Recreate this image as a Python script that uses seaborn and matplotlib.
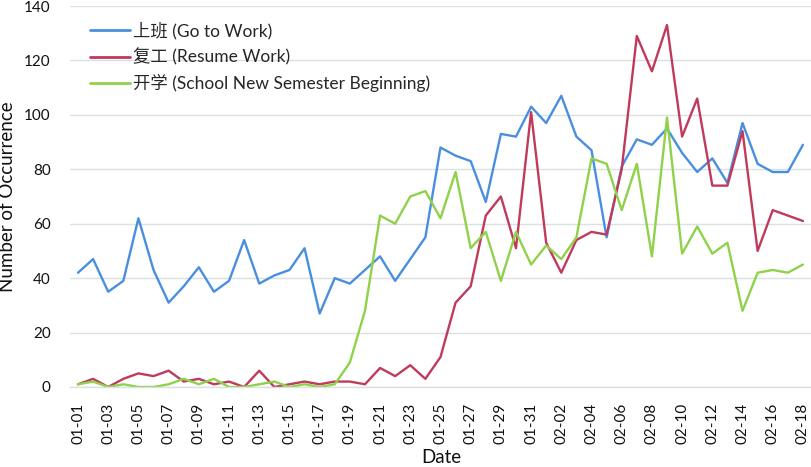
import numpy as np
import pandas as pd
import matplotlib
matplotlib.use("Agg")
import matplotlib.pyplot as plt
import seaborn as sns

dates = ["01-%02d" % d for d in range(1, 32)] + ["02-%02d" % d for d in range(1, 19)]

go_to_work = [42, 47, 35, 39, 62, 43, 31, 37, 44, 35, 39, 54, 38, 41, 43, 51, 27, 40, 38, 43,
              48, 39, 47, 55, 88, 85, 83, 68, 93, 92, 103, 97, 107, 92, 87, 55, 81, 91, 89, 95,
              86, 79, 84, 75, 97, 82, 79, 79, 89]
resume_work = [1, 3, 0, 3, 5, 4, 6, 2, 3, 1, 2, 0, 6, 0, 1, 2, 1, 2, 2, 1,
               7, 4, 8, 3, 11, 31, 37, 63, 70, 51, 101, 53, 42, 54, 57, 56, 80, 129, 116, 133,
               92, 106, 74, 74, 94, 50, 65, 63, 61]
school = [1, 2, 0, 1, 0, 0, 1, 3, 1, 3, 0, 0, 1, 2, 0, 1, 0, 1, 9, 28,
          63, 60, 70, 72, 62, 79, 51, 57, 39, 57, 45, 52, 47, 55, 84, 82, 65, 82, 48, 99,
          49, 59, 49, 53, 28, 42, 43, 42, 45]

series_names = ["上班 (Go to Work)", "复工 (Resume Work)", "开学 (School New Semester Beginning)"]
colors = ["#4a8fdf", "#c03a5c", "#8fd24a"]

n = len(dates)
df = pd.DataFrame({
    "pos": list(range(n)) * 3,
    "value": go_to_work + resume_work + school,
    "series": [series_names[0]] * n + [series_names[1]] * n + [series_names[2]] * n,
})

sns.set_theme(style="white")
plt.rcParams["font.family"] = ["Lato", "Noto Sans CJK SC", "DejaVu Sans"]

fig = plt.figure(figsize=(8.12, 4.67), dpi=100)
ax = fig.add_axes([70 / 812, 80 / 467, 742 / 812, 381 / 467])

sns.lineplot(data=df, x="pos", y="value", hue="series", palette=colors,
             linewidth=1.7, ax=ax, legend=True)

ax.set_xlim(-0.53, 48.6)
ax.set_ylim(0, 140)
ax.set_yticks(range(0, 141, 20))
ax.set_xticks(range(0, n, 2))
ax.set_xticklabels([dates[i] for i in range(0, n, 2)], rotation=90)
ax.tick_params(axis="both", length=0, labelsize=11, colors="#111111")
ax.tick_params(axis="x", pad=11)
ax.tick_params(axis="y", pad=14)
ax.grid(axis="y", color="#d9e1e2", linewidth=1)
ax.set_axisbelow(True)
for s in ["top", "right", "left"]:
    ax.spines[s].set_visible(False)
ax.spines["bottom"].set_color("#d9e1e2")
ax.spines["bottom"].set_linewidth(1)

ax.set_xlabel("Date", fontsize=13.5, color="#111111", labelpad=4)
ax.set_ylabel("Number of Occurrence", fontsize=13.5, color="#111111", labelpad=6)

handles, labels = ax.get_legend_handles_labels()
leg = ax.legend(handles, labels, loc="upper left", bbox_to_anchor=(8 / 742, 0.99),
                frameon=False, fontsize=12.5, handlelength=2.3, handletextpad=0.15,
                labelspacing=0.5, borderaxespad=0.3)
for line in leg.get_lines():
    line.set_linewidth(2)

fig.savefig("out.png", dpi=100)
